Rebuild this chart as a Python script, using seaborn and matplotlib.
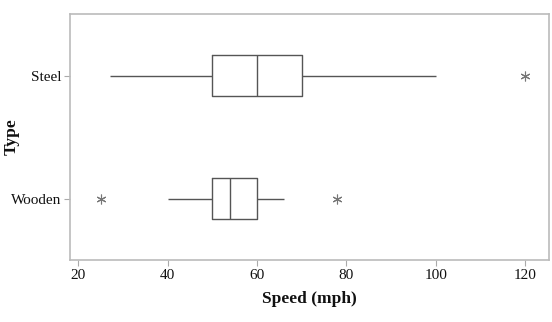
import matplotlib
matplotlib.use("Agg")
import matplotlib.pyplot as plt
import seaborn as sns
import pandas as pd

# Values (summary points of each box)
categories = ["Steel", "Wooden"]
steel_speeds = [27, 50, 50, 60, 60, 70, 70, 100, 120]
wooden_speeds = [25, 40, 50, 50, 54, 60, 60, 66, 78]
x_ticks = [20, 40, 60, 80, 100, 120]

df = pd.DataFrame({
    "Type": [categories[0]] * len(steel_speeds) + [categories[1]] * len(wooden_speeds),
    "Speed": steel_speeds + wooden_speeds,
})

sns.set_style("white")
plt.rcParams["font.family"] = ["Liberation Serif", "DejaVu Serif"]

fig = plt.figure(figsize=(5.52, 3.22), dpi=100)
ax = fig.add_axes([0.1274, 0.1925, 0.867, 0.764])

line_c = "#555555"
sns.boxplot(
    data=df, x="Speed", y="Type", order=categories, orient="h", ax=ax,
    width=0.333, whis=1.5, fill=False, color=line_c, linewidth=1.0,
    showcaps=False,
    flierprops=dict(marker=(6, 2, 0), markersize=7, markeredgecolor="#777777",
                    markeredgewidth=0.8, markerfacecolor="none"),
)

ax.set_xlim(18.23, 125.3)
ax.set_ylim(1.5, -0.5)
ax.set_xticks(x_ticks)
ax.set_xticklabels([str(t) for t in x_ticks], fontsize=11)
ax.set_yticklabels(categories, fontsize=11)
ax.tick_params(axis="both", which="both", direction="out", length=4.3, width=0.8,
               color="#aaaaaa", left=True, bottom=True, pad=2, labelcolor="#111111")

ax.set_xlabel("Speed (mph)", fontsize=12.5, fontweight="bold", labelpad=7, color="#111111")
ax.set_ylabel("Type", fontsize=12.5, fontweight="bold", color="#111111")
ax.yaxis.set_label_coords(-0.105, 0.5)

for s in ax.spines.values():
    s.set_color("#bbbbbb")
    s.set_linewidth(1.2)
    s.set_visible(True)

fig.savefig("out.png", dpi=100)
